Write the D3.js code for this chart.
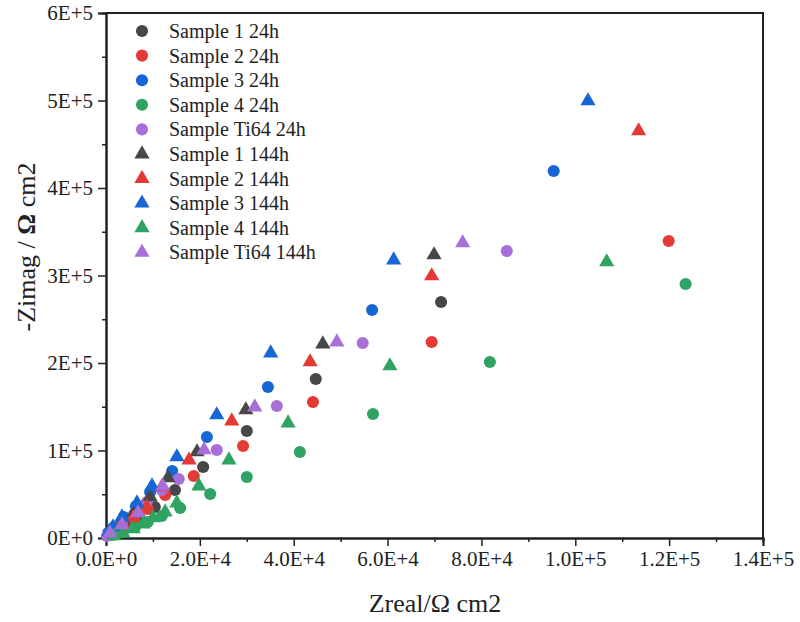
<!DOCTYPE html>
<html>
<head>
<meta charset="utf-8">
<script src="https://cdn.jsdelivr.net/npm/d3@7"></script>
<style>
  body { margin: 0; background: #fff; }
</style>
</head>
<body>
<div id="chart"></div>
<script>
// Nyquist data, [Zreal, -Zimag] in ohm cm2
const sample1_24h = [[71400, 269700], [44700, 181700], [30000, 122300], [20700, 81100], [14700, 54900], [10400, 35400], [7200, 22900], [4500, 13700], [1900, 6900], [640, 3400]];
const sample2_24h = [[119900, 339500], [69400, 224000], [44100, 155400], [29200, 105200], [18700, 70900], [12600, 49100], [8900, 33100], [6000, 21700], [3600, 12600], [1300, 5700]];
const sample3_24h = [[95400, 419500], [56700, 260600], [34500, 172600], [21500, 115400], [14100, 76600], [9400, 52600], [6400, 36600], [3800, 24000], [1700, 12600], [430, 5700]];
const sample4_24h = [[123500, 290300], [81800, 201200], [56900, 141700], [41300, 98300], [30000, 69700], [22200, 50300], [15800, 34300], [11900, 25100], [8900, 18300], [6200, 12600], [3600, 6900], [1500, 3400]];
const sampleTi64_24h = [[85400, 328000], [54700, 222900], [36400, 150900], [23600, 100600], [15500, 67400], [11900, 54900], [8700, 41100], [6000, 27400], [3400, 16000], [1300, 8000], [200, 2300]];
const sample1_144h = [[69900, 323500], [46200, 221700], [29800, 146300], [19400, 98300], [13200, 68600], [9400, 46900], [6000, 29700], [3200, 17100], [1100, 6900]];
const sample2_144h = [[113500, 465200], [69400, 299500], [43500, 201200], [26800, 133700], [17700, 89100], [11900, 58300], [8700, 35400], [5800, 22900], [3000, 12600], [1100, 5700]];
const sample3_144h = [[102700, 499500], [61300, 317600], [35100, 211400], [23600, 140600], [15100, 92600], [9800, 59400], [6600, 40000], [3400, 24000], [1500, 12600], [640, 6900]];
const sample4_144h = [[106700, 315500], [60500, 196600], [38800, 131400], [26200, 89100], [19800, 59400], [15100, 40000], [12600, 29700], [10000, 22900], [7900, 16000], [5800, 10300], [3600, 5700], [1700, 2300]];
const sampleTi64_144h = [[76000, 337200], [49200, 224000], [31700, 149700], [20900, 100600], [12100, 59400], [6800, 28600], [3400, 14900], [850, 5700]];

const seriesNames = ["Sample 1 24h", "Sample 2 24h", "Sample 3 24h", "Sample 4 24h", "Sample Ti64 24h",
                     "Sample 1 144h", "Sample 2 144h", "Sample 3 144h", "Sample 4 144h", "Sample Ti64 144h"];
const seriesData = [sample1_24h, sample2_24h, sample3_24h, sample4_24h, sampleTi64_24h,
                    sample1_144h, sample2_144h, sample3_144h, sample4_144h, sampleTi64_144h];

const xTicks = [0, 20000, 40000, 60000, 80000, 100000, 120000, 140000];
const yTicks = [0, 100000, 200000, 300000, 400000, 500000, 600000];

// colors and shapes go with the sample number / immersion time
const colors = ["#474747", "#e53935", "#1766d6", "#2fa361", "#a86fd9"];

const serif = "'Liberation Serif', 'Times New Roman', serif";
const width = 800, height = 622;
const margin = {top: 13, right: 37, bottom: 84, left: 106};

const svg = d3.select("#chart").append("svg")
    .attr("width", width)
    .attr("height", height);

const x = d3.scaleLinear().domain([0, 140000]).range([margin.left, width - margin.right]);
const y = d3.scaleLinear().domain([0, 600000]).range([height - margin.bottom, margin.top]);

// minor ticks at the half steps
const xMinor = d3.range(10000, 140000, 20000);
const yMinor = d3.range(50000, 600000, 100000);

svg.append("g")
    .attr("transform", `translate(0,${y(0)})`)
    .call(d3.axisBottom(x).tickValues(xTicks).tickSize(8).tickPadding(5)
        .tickFormat(d => d3.format(".1e")(d).toUpperCase()));
svg.append("g")
    .attr("transform", `translate(0,${y(0)})`)
    .call(d3.axisBottom(x).tickValues(xMinor).tickSize(4).tickFormat(""));

svg.append("g")
    .attr("transform", `translate(${x(0)},0)`)
    .call(d3.axisLeft(y).tickValues(yTicks).tickSize(8).tickPadding(5)
        .tickFormat(d => d3.format(".0e")(d).toUpperCase()));
svg.append("g")
    .attr("transform", `translate(${x(0)},0)`)
    .call(d3.axisLeft(y).tickValues(yMinor).tickSize(4).tickFormat(""));

svg.selectAll(".domain").attr("stroke", "#222").attr("stroke-width", 2);
svg.selectAll(".tick line").attr("stroke", "#222").attr("stroke-width", 1.5);
svg.selectAll(".tick text")
    .style("font-family", serif)
    .style("font-size", "21px")
    .attr("fill", "#222");

// top and right frame lines
svg.append("path")
    .attr("d", `M${x(0)},${y(600000)}H${x(140000)}V${y(0)}`)
    .attr("fill", "none")
    .attr("stroke", "#222")
    .attr("stroke-width", 2);

// markers
const circle = d3.symbol().type(d3.symbolCircle).size(115);
const triangle = d3.symbol().type(d3.symbolTriangle).size(100);

seriesData.forEach((data, i) => {
    svg.append("g")
        .selectAll("path")
        .data(data)
        .enter()
        .append("path")
        .attr("d", i < 5 ? circle : triangle)
        .attr("transform", d => `translate(${x(d[0])},${y(d[1])})`)
        .attr("fill", colors[i % 5]);
});

// legend
const legend = svg.append("g");
seriesNames.forEach((name, i) => {
    let ly = 31 + i * 24.6;
    legend.append("path")
        .attr("d", i < 5 ? circle : triangle)
        .attr("transform", `translate(142,${ly})`)
        .attr("fill", colors[i % 5]);
    legend.append("text")
        .attr("x", 169)
        .attr("y", ly)
        .attr("dy", "0.35em")
        .attr("fill", "#222")
        .style("font-family", serif)
        .style("font-size", "20px")
        .text(name);
});

// axis titles
svg.append("text")
    .attr("x", 435)
    .attr("y", 612)
    .attr("text-anchor", "middle")
    .attr("fill", "#222")
    .style("font-family", serif)
    .style("font-size", "26px")
    .text("Zreal/Ω cm2");

svg.append("text")
    .attr("transform", "translate(35,247) rotate(-90)")
    .attr("text-anchor", "middle")
    .attr("fill", "#222")
    .style("font-family", serif)
    .style("font-size", "26px")
    .html('-Zimag / <tspan font-weight="bold">Ω</tspan> cm2');
</script>
</body>
</html>
